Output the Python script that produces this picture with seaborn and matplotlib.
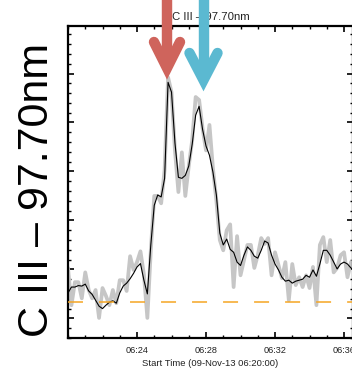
import numpy as np
import pandas as pd
import matplotlib
matplotlib.use("Agg")
import matplotlib.pyplot as plt
from matplotlib.lines import Line2D
from matplotlib.ticker import MultipleLocator, FixedLocator, FixedFormatter
import seaborn as sns

# C III 97.70 nm light curve, 12 s cadence, minutes after 06:20:00
cadence_min = 0.2
raw_counts = [
    203, 127, 174, 174, 141, 194, 158, 141, 158, 101, 162, 146, 127, 158, 131, 178,
    178, 156, 227, 199, 215, 237, 190, 101, 239, 350, 350, 335, 403, 592, 562, 443,
    358, 439, 350, 411, 464, 552, 546, 488, 443, 495, 407, 341, 260, 239, 280, 292,
    164, 268, 188, 219, 250, 250, 203, 229, 264, 252, 264, 188, 235, 209, 182, 215,
    137, 211, 168, 184, 164, 188, 162, 205, 127, 250, 266, 215, 260, 194, 203, 229,
    235, 184, 215, 203,
]
smoothed_counts = [
    152, 164, 164, 167, 166, 170, 156, 149, 137, 125, 120, 127, 133, 136, 131, 152,
    166, 172, 181, 192, 205, 212, 178, 150, 250, 331, 352, 348, 386, 582, 562, 458,
    388, 386, 392, 411, 456, 515, 533, 486, 452, 433, 399, 352, 274, 250, 262, 241,
    235, 215, 208, 229, 246, 239, 227, 223, 239, 258, 254, 229, 211, 199, 184, 176,
    178, 172, 176, 178, 180, 188, 184, 199, 186, 211, 239, 239, 229, 215, 201, 211,
    215, 211, 203, 199,
]
background_level = 134
tick_minutes = [4, 8, 12, 16]
tick_labels = ["06:24", "06:28", "06:32", "06:36"]
line_name = "C III \u2013 97.70nm"
x_title = "Start Time (09-Nov-13 06:20:00)"

minutes = np.arange(len(raw_counts)) * cadence_min
df = pd.DataFrame({"minutes": minutes, "raw": raw_counts, "smooth": smoothed_counts})

sns.set_style("ticks")
plt.rcParams["font.family"] = ["Liberation Sans", "DejaVu Sans"]

W, H = 352, 371
fig = plt.figure(figsize=(W / 100, H / 100), dpi=100)
ax = fig.add_axes([68 / W, 1 - 338 / H, (353 - 68) / W, (338 - 26) / H])

sns.lineplot(data=df, x="minutes", y="raw", ax=ax, color="#c6c6c6", lw=2.7, zorder=2)
sns.lineplot(data=df, x="minutes", y="smooth", ax=ax, color="black", lw=0.8, zorder=3)
ax.axhline(background_level, color="#f5a623", lw=1.1, dashes=(9.8, 10.5), zorder=4)

ax.set_xlim(0, 16.52)
ax.set_ylim(60, 697)
ax.xaxis.set_major_locator(FixedLocator(tick_minutes))
ax.xaxis.set_major_formatter(FixedFormatter(tick_labels))
ax.xaxis.set_minor_locator(MultipleLocator(1))
ax.yaxis.set_major_locator(MultipleLocator(100))
ax.yaxis.set_minor_locator(MultipleLocator(20))
ax.tick_params(which="both", direction="in", top=True, right=True, color="black")
ax.tick_params(which="major", length=4, width=1.2, labelsize=6.6, pad=6, labelcolor="#222222")
ax.tick_params(which="minor", length=2, width=1.0)
ax.tick_params(axis="y", labelleft=False)
for side in ["left", "bottom", "top", "right"]:
    ax.spines[side].set_linewidth(1.6)
    ax.spines[side].set_color("black")

ax.set_xlabel(x_title, fontsize=6.8, color="#222222", labelpad=3)
ax.set_ylabel("")
ax.set_title(line_name, fontsize=8.2, color="#222222", pad=4)

fig.text(37 / W, 1 - 190 / H, line_name, rotation=90, ha="center", va="center",
         fontsize=31, color="black")


def arrow(color, cx, tip_y, head_y, half_w):
    def p(x, y):
        return (x / W, 1 - y / H)
    shaft = [p(cx, -10), p(cx, tip_y - 4)]
    head = [p(cx - half_w, head_y), p(cx, tip_y), p(cx + half_w, head_y)]
    for pts in (shaft, head):
        xs, ys = zip(*pts)
        fig.add_artist(Line2D(xs, ys, transform=fig.transFigure, color=color, lw=7.5,
                              solid_capstyle="round", solid_joinstyle="miter", zorder=10))


arrow("#cf645c", 167, 68, 42, 13)
arrow("#5bb9d1", 203.5, 80, 53, 14)

fig.savefig("out.png", dpi=100)
